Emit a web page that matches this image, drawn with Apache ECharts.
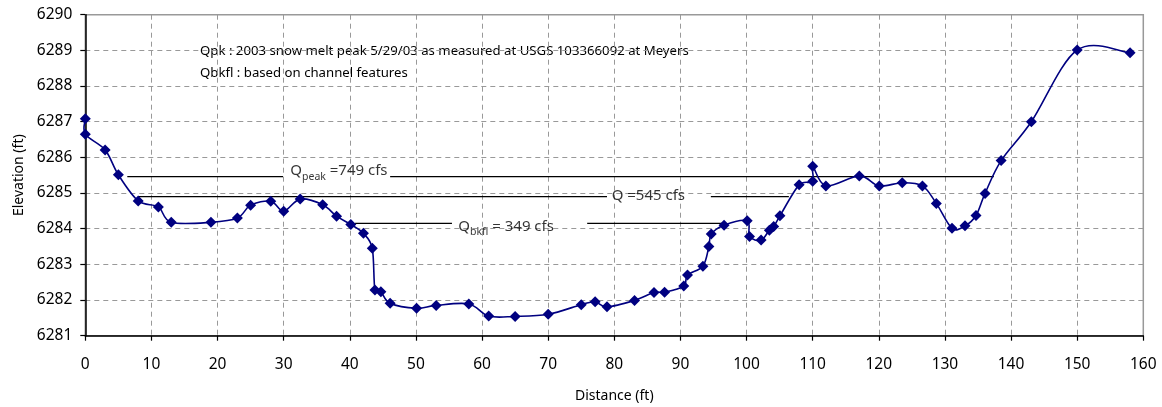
<!DOCTYPE html>
<html>
<head>
<meta charset="utf-8">
<script src="https://cdn.jsdelivr.net/npm/echarts@6/dist/echarts.min.js"></script>
<style>
html,body{margin:0;padding:0;background:#fff;}
#chart{width:1162px;height:407px;}
</style>
</head>
<body>
<div id="chart"></div>
<script>
// ---- data ----
var distance = [0, 0, 3.0, 5.0, 8.0, 11.05, 13.0, 19.0, 23.0, 25.0, 28.05, 30.0, 32.5, 35.9, 38.0, 40.15, 42.06, 43.4, 43.8, 44.7, 46.1, 50.1, 53.06, 58.0, 61.0, 65.0, 70.0, 75.0, 77.1, 78.9, 83.06, 86.0, 87.6, 90.5, 91.07, 93.4, 94.3, 94.66, 96.6, 100.1, 100.45, 102.2, 103.45, 104.1, 105.05, 107.95, 110.0, 110.0, 112.0, 117.05, 120.07, 123.55, 126.6, 128.7, 131.07, 133.04, 134.7, 136.07, 138.5, 143.07, 150.0, 158.0];
var elevation = [6287.08, 6286.65, 6286.21, 6285.51, 6284.78, 6284.61, 6284.18, 6284.18, 6284.30, 6284.66, 6284.77, 6284.49, 6284.83, 6284.67, 6284.35, 6284.12, 6283.87, 6283.45, 6282.28, 6282.23, 6281.91, 6281.77, 6281.85, 6281.89, 6281.55, 6281.54, 6281.60, 6281.87, 6281.95, 6281.81, 6281.99, 6282.21, 6282.22, 6282.39, 6282.70, 6282.95, 6283.50, 6283.85, 6284.10, 6284.22, 6283.78, 6283.68, 6283.96, 6284.06, 6284.36, 6285.23, 6285.33, 6285.75, 6285.20, 6285.48, 6285.20, 6285.29, 6285.20, 6284.71, 6284.01, 6284.08, 6284.37, 6284.99, 6285.91, 6287.00, 6289.01, 6288.93];

var xTicks = [0, 10, 20, 30, 40, 50, 60, 70, 80, 90, 100, 110, 120, 130, 140, 150, 160];
var yTicks = [6281, 6282, 6283, 6284, 6285, 6286, 6287, 6288, 6289, 6290];

// discharge water-surface lines
var flowNames   = ['Qpeak', 'Q545', 'Qbkfl'];
var flowLevel   = [6285.46, 6284.90, 6284.15];
var flowStart   = [6.35, 8.0, 40.8];
var flowEnd     = [137.4, 106.4, 96.5];
var flowGapFrom = [29.9, 78.9, 55.45];
var flowGapTo   = [46.1, 94.6, 75.9];
var flowLabelX  = [31.0, 79.6, 56.4];
var flowLabelY  = [6285.46, 6284.86, 6283.91];
var flowLabels  = ['{q|Q}{s|peak}{q| =749 cfs}', '{q|Q =545 cfs}', '{q|Q}{s|bkfl}{q| = 349 cfs}'];

var noteLines = ['Qpk : 2003 snow melt peak 5/29/03 as measured at USGS 103366092 at Meyers',
                 'Qbkfl : based on channel features'];

// ---- build ----
var FONT = 'Noto Sans';
var profile = distance.map(function (d, i) { return [d, elevation[i]]; });

// Excel-like smoothed curve through pixel coordinates obtained from the axes
function smoothPathData(pts) {
  var n = pts.length;
  function len(a, b) { return Math.sqrt((a[0] - b[0]) * (a[0] - b[0]) + (a[1] - b[1]) * (a[1] - b[1])); }
  var cps = pts.map(function (p, i) {
    var prev = pts[Math.max(i - 1, 0)], next = pts[Math.min(i + 1, n - 1)];
    var vx = (next[0] - prev[0]) / 6, vy = (next[1] - prev[1]) / 6;
    var vl = Math.sqrt(vx * vx + vy * vy) || 1;
    var lIn = Math.min(vl, 0.5 * len(prev, p)) / vl;
    var lOut = Math.min(vl, 0.5 * len(p, next)) / vl;
    return { inp: [p[0] - vx * lIn, p[1] - vy * lIn], out: [p[0] + vx * lOut, p[1] + vy * lOut] };
  });
  var d = 'M' + pts[0][0] + ' ' + pts[0][1];
  for (var i = 1; i < n; i++) {
    d += ' C' + cps[i - 1].out[0] + ' ' + cps[i - 1].out[1] + ' ' + cps[i].inp[0] + ' ' + cps[i].inp[1] + ' ' + pts[i][0] + ' ' + pts[i][1];
  }
  return d;
}

var series = [];
flowNames.forEach(function (n, i) {
  series.push({
    name: n, type: 'line', silent: true, symbol: 'none', z: 2,
    lineStyle: { color: '#000', width: 1.3 },
    connectNulls: false,
    data: [[flowStart[i], flowLevel[i]], [flowGapFrom[i], flowLevel[i]], [null, null],
           [flowGapTo[i], flowLevel[i]], [flowEnd[i], flowLevel[i]]]
  });
});
series.push({
  name: 'labels', type: 'scatter', silent: true, symbolSize: 0, z: 4,
  data: flowLabelX.map(function (x, i) {
    return { value: [x, flowLabelY[i]], label: { formatter: flowLabels[i] } };
  }),
  label: {
    show: true, position: 'right', distance: 0,
    rich: {
      q: { fontFamily: FONT, fontSize: 15, color: '#000', lineHeight: 20, verticalAlign: 'top' },
      s: { fontFamily: FONT, fontSize: 10.5, color: '#000', lineHeight: 26, verticalAlign: 'middle' }
    }
  }
});
series.push({
  name: 'profileCurve', type: 'custom', silent: true, z: 3,
  data: [profile[0]],
  renderItem: function (params, api) {
    var pts = profile.map(function (p) { return api.coord(p); });
    return {
      type: 'path',
      shape: { pathData: smoothPathData(pts) },
      style: { fill: 'none', stroke: '#000080', lineWidth: 1.6 }
    };
  }
});
series.push({
  name: 'Elevation', type: 'scatter', z: 5,
  symbol: 'diamond', symbolSize: 11,
  itemStyle: { color: '#000080', opacity: 1 },
  data: profile
});

var chart = echarts.init(document.getElementById('chart'), null, { renderer: 'canvas' });
chart.setOption({
  animation: false,
  backgroundColor: '#fff',
  grid: { left: 85.3, right: 18.7, top: 14.7, bottom: 71.3, show: true, borderColor: '#999', borderWidth: 1.5,
          containLabel: false, outerBoundsMode: 'none' },
  xAxis: {
    type: 'value', min: xTicks[0], max: xTicks[xTicks.length - 1], interval: xTicks[1] - xTicks[0],
    name: 'Distance (ft)', nameLocation: 'middle', nameGap: 53,
    nameTextStyle: { fontFamily: FONT, fontSize: 14, color: '#000' },
    axisLine: { onZero: false, lineStyle: { color: '#000', width: 1.5 } },
    axisTick: { show: true, length: 5, lineStyle: { color: '#000', width: 1.2 } },
    axisLabel: { margin: 21, fontFamily: FONT, fontSize: 15.5, color: '#000' },
    splitLine: { show: true, lineStyle: { color: '#999', width: 1, type: [5, 4] } }
  },
  yAxis: {
    type: 'value', min: yTicks[0], max: yTicks[yTicks.length - 1], interval: yTicks[1] - yTicks[0],
    name: 'Elevation (ft)', nameLocation: 'middle', nameGap: 57,
    nameTextStyle: { fontFamily: FONT, fontSize: 14, color: '#000' },
    axisLine: { show: true, onZero: false, lineStyle: { color: '#000', width: 1.5 } },
    axisTick: { show: true, length: 5, lineStyle: { color: '#000', width: 1.2 } },
    axisLabel: { margin: 13, fontFamily: FONT, fontSize: 15.5, color: '#000', formatter: function (v) { return String(v); } },
    splitLine: { show: true, lineStyle: { color: '#999', width: 1, type: [5, 4] } }
  },
  graphic: noteLines.map(function (t, i) {
    return {
      type: 'text', left: 200, top: 45 + i * 22, silent: true,
      style: { text: t, fontFamily: FONT, fontSize: 13.2, fill: '#000' }
    };
  }),
  series: series
});
</script>
</body>
</html>
